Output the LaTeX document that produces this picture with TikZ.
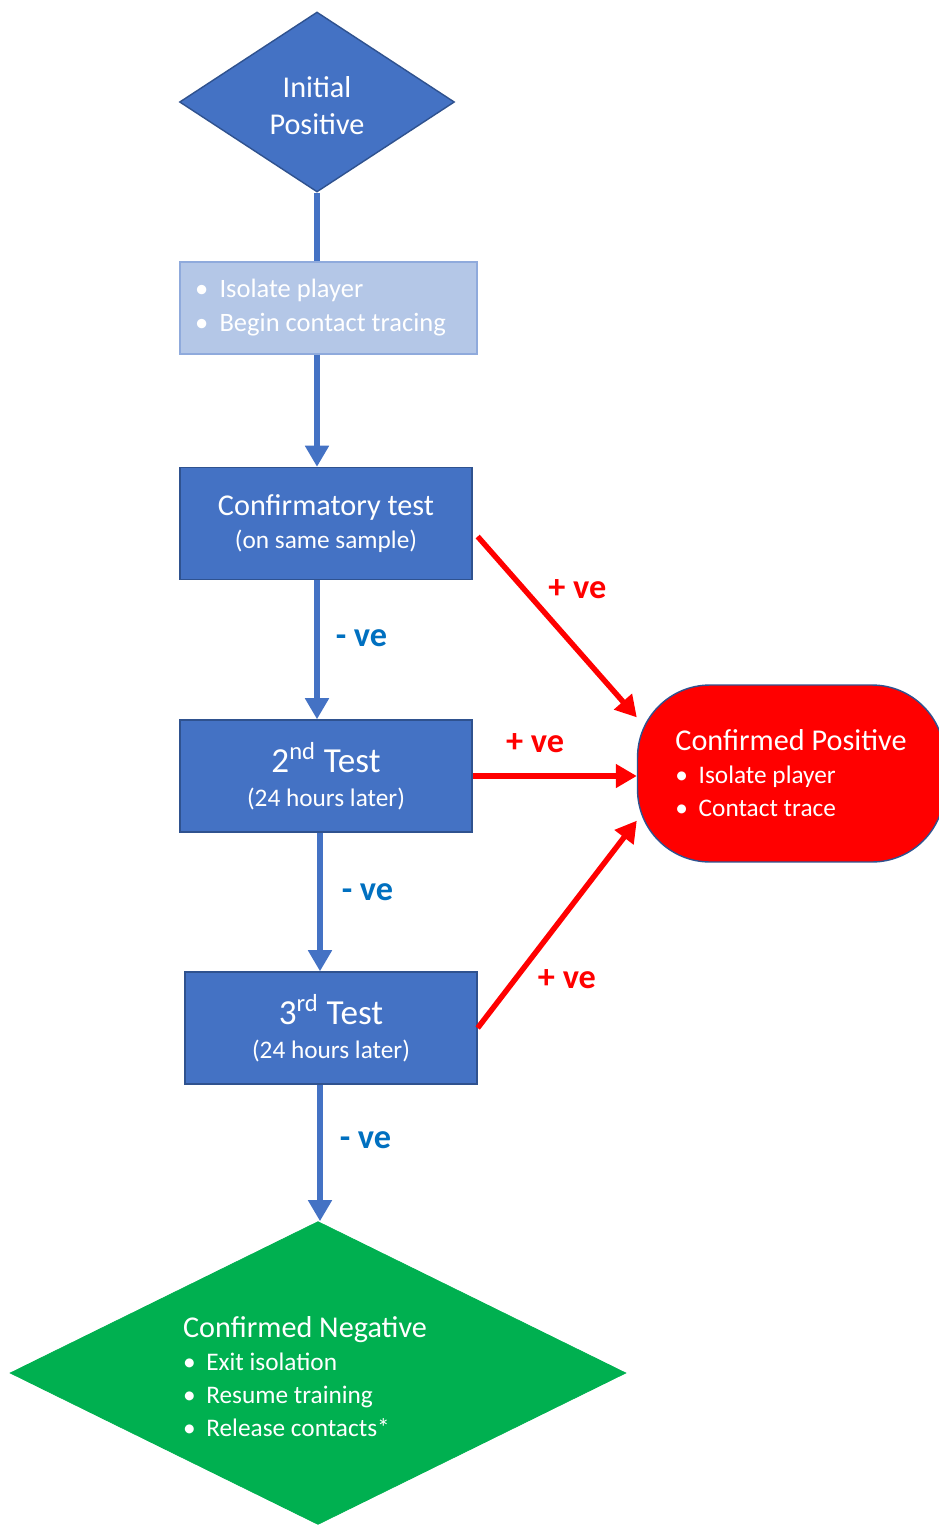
\documentclass[tikz,border=0pt]{standalone}
\usepackage{fontspec}
\setmainfont{Carlito}
\usepackage{tikz}
\usetikzlibrary{arrows.meta,positioning,calc,shapes.geometric}
\definecolor{stepblue}{HTML}{4472C4}
\definecolor{edgeblue}{HTML}{2F528F}
\definecolor{paleblue}{HTML}{B4C7E7}
\definecolor{paleedge}{HTML}{8FAADC}
\definecolor{veblue}{HTML}{0070C0}
\definecolor{posred}{HTML}{FF0000}
\definecolor{neggreen}{HTML}{00B050}
\newcommand{\blt}{\textbullet\hspace{0.42em}}
\tikzset{
  testbox/.style={rectangle,draw=edgeblue,fill=stepblue,line width=0.8pt,
                  text=white,align=center,inner sep=0pt,
                  minimum width=5.84cm,minimum height=2.24cm},
  notebox/.style={rectangle,draw=paleedge,fill=paleblue,line width=0.8pt,
                  text=white,align=left,inner sep=0pt,
                  minimum width=5.94cm,minimum height=1.84cm},
  startdiamond/.style={diamond,aspect=1.5,draw=edgeblue,fill=stepblue,
                  line width=0.8pt,text=white,align=center,inner sep=0pt,
                  minimum width=5.5cm,minimum height=3.6cm},
  negdiamond/.style={diamond,aspect=2,draw=neggreen,fill=neggreen,
                  text=white,align=left,inner sep=0pt,
                  minimum width=12.32cm,minimum height=6.06cm},
  posbox/.style={rectangle,rounded corners=1.45cm,draw=edgeblue,fill=posred,
                  line width=0.8pt,text=white,align=left,inner sep=0pt,
                  minimum width=6.14cm,minimum height=3.54cm},
  flowline/.style={draw=stepblue,line width=3.3pt},
  flowarrow/.style={->,draw=stepblue,line width=3.3pt},
  posarrow/.style={->,draw=posred,line width=3.1pt},
  velabel/.style={text=veblue,font=\fontsize{19.5}{22}\selectfont\bfseries},
  pluslabel/.style={text=posred,font=\fontsize{19.5}{22}\selectfont\bfseries},
  headfont/.style={font=\fontsize{17.2}{18.8}\selectfont},
}
\begin{document}
\begin{tikzpicture}[x=0.02cm,y=-0.02cm,>={Triangle[length=12pt,width=13pt]}]
  \useasboundingbox (0,0) rectangle (939,1525);
  \node[startdiamond,font=\fontsize{17.2}{21}\selectfont] (init) at (317,102)
    {\rule{0pt}{0.58cm}Initial\\Positive};
  \node[notebox,font=\fontsize{15.1}{19.3}\selectfont] (iso) at (328.5,308)
    {\blt Isolate player\\\blt Begin contact tracing\hspace*{0.32cm}};
  \node[testbox,headfont] (conf) at (326,523.5)
    {Confirmatory test\\{\fontsize{14.4}{18.2}\selectfont (on same sample)}};
  \node[testbox,font=\fontsize{20}{19}\selectfont] (t2) at (326,776)
    {2\textsuperscript{nd} Test\\{\fontsize{14.4}{19}\selectfont (24 hours later)}};
  \node[testbox,font=\fontsize{20}{19}\selectfont] (t3) at (331,1028)
    {3\textsuperscript{rd} Test\\{\fontsize{14.4}{19}\selectfont (24 hours later)}};
  \node[negdiamond,headfont] (neg) at (318,1373)
    {\rule{0pt}{0.58cm}Confirmed Negative\hspace*{0.52cm}\\
     {\fontsize{14.4}{18.8}\selectfont\blt Exit isolation}\\
     {\fontsize{14.4}{18.8}\selectfont\blt Resume training}\\
     {\fontsize{14.4}{18.8}\selectfont\blt Release contacts*}};
  \node[posbox,headfont] (pos) at (791,773.5)
    {Confirmed Positive\\{\fontsize{14.4}{18.8}\selectfont\blt Isolate player}\\
     {\fontsize{14.4}{18.8}\selectfont\blt Contact trace}};

  \coordinate (t2out) at ($(t2.south)+(-6,0)$);
  \coordinate (t3out) at ($(t3.south)+(-11,0)$);

  \draw[flowline] (init.south) -- (init.south |- iso.north);
  \draw[flowarrow] (init.south |- iso.south) -- (init.south |- conf.north);
  \draw[flowarrow] (init.south |- conf.south) -- (init.south |- t2.north)
    node[velabel,pos=0.42,right=0.2cm] {- ve};
  \draw[flowarrow] (t2out) -- (t2out |- t3.north)
    node[velabel,pos=0.43,right=0.26cm] {- ve};
  \draw[flowarrow] (t3out) -- (t3out |- neg.north)
    node[velabel,pos=0.41,right=0.22cm] {- ve};

  \draw[posarrow] ($(conf.east)+(5,13)$) -- (pos.160)
    node[pluslabel,pos=0.39,above right] {+ ve};
  \draw[posarrow] (t2.east) -- (t2.east -| pos.west)
    node[pluslabel,pos=0.38,above=0.3cm] {+ ve};
  \draw[posarrow] (t3.east) -- (pos.197)
    node[pluslabel,pos=0.325,below right] {+ ve};
\end{tikzpicture}
\end{document}
